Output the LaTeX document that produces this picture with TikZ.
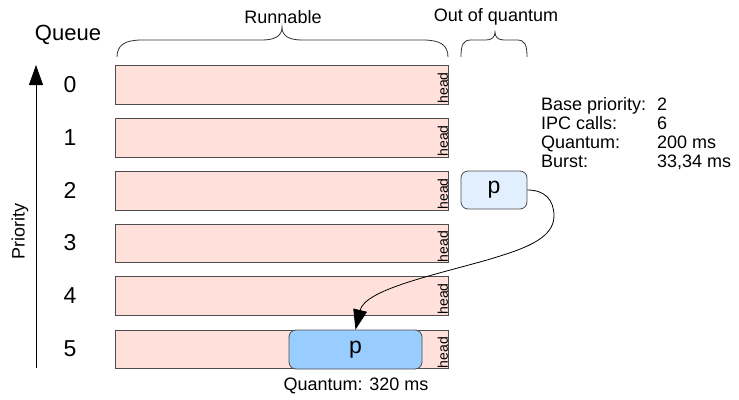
\documentclass[tikz,border=0pt]{standalone}
\usepackage{fontspec}
\setmainfont{Liberation Sans}
\usetikzlibrary{arrows.meta}
\definecolor{barfill}{HTML}{FFE0DA}
\definecolor{edgegray}{HTML}{4D4D4D}
\definecolor{plight}{HTML}{E1EFFF}
\definecolor{pdark}{HTML}{99CCFF}
\newcommand{\fs}[1]{\fontsize{#1}{#1}\selectfont}
\begin{document}
\begin{tikzpicture}[x=1pt,y=-1pt,
  qbar/.style={draw=edgegray, fill=barfill, line width=0.8pt, minimum width=333pt, minimum height=38.5pt, inner sep=0pt, anchor=north west},
  headlbl/.style={rotate=90, anchor=south west, font=\fs{14}, inner sep=0.6pt},
  qnum/.style={font=\fs{23}, inner sep=0pt},
  toplbl/.style={font=\fs{18}, inner sep=0pt},
  info/.style={font=\fs{18}, anchor=base west, inner sep=0pt},
  pbox/.style={draw=edgegray, line width=0.8pt, rounded corners=7pt, font=\fs{23}, inner sep=0pt},
  bigarrow/.style={-{Triangle[width=14pt,length=20pt]}, line width=0.8pt},
  bracestyle/.style={line width=0.8pt, draw=black!80}
]
\useasboundingbox (0,0) rectangle (739,399);

% queue bars
\foreach \i/\y in {0/65,1/118,2/171,3/223.5,4/276,5/329.5}{
  \node[qbar] (q\i) at (115,\y) {};
  \node[headlbl] (h\i) at (q\i.south east) {head};
  \node[qnum] (n\i) at (70,\y+19.5) {\i};
}

% labels
\node[font=\fs{22}, inner sep=0pt] (queue) at (68,35) {Queue};
\node[toplbl] (runnable) at (283,17) {Runnable};
\node[toplbl] (ooq) at (496,17) {Out of quantum};
\node[font=\fs{18}, rotate=90, inner sep=0pt] (prio) at (20,231) {Priority};

% priority axis
\coordinate (axb) at (36,368);
\coordinate (axt) at (36,65);
\draw[bigarrow] (axb) -- (axt);

% braces
\draw[bracestyle] (117,57) .. controls (117,45) and (125,40) .. (142,40) -- (262,40)
  .. controls (275,40) and (282,36) .. (282,27)
  .. controls (282,36) and (289,40) .. (302,40) -- (423,40)
  .. controls (440,40) and (448,45) .. (448,57);
\draw[bracestyle] (461,57) .. controls (461,45) and (463,40) .. (471,40) -- (486,40)
  .. controls (492,40) and (495,37) .. (495,32)
  .. controls (495,37) and (498,40) .. (504,40) -- (517,40)
  .. controls (525,40) and (527,45) .. (527,57);

% processes
\node[pbox, fill=plight, minimum width=66pt, minimum height=38pt] (psmall) at (494,190) {p};
\node[pbox, fill=pdark, minimum width=133pt, minimum height=39pt] (pbig) at (355.5,349.5) {p};

\draw[bigarrow] (psmall.east) .. controls (545,190) and (554,200) .. (554,216)
  .. controls (554,240) and (520,250) .. (487,260)
  .. controls (430,276) and (365,290) .. (pbig.north);

% info
\node[info] (i1) at (541,110) {Base priority:};
\node[info] (v1) at (657,110) {2};
\node[info] (i2) at (541,129) {IPC calls:};
\node[info] (v2) at (657,129) {6};
\node[info] (i3) at (541,148) {Quantum:};
\node[info] (v3) at (657,148) {200 ms};
\node[info] (i4) at (541,167) {Burst:};
\node[info] (v4) at (657,167) {33,34 ms};

\node[font=\fs{18}, inner sep=0pt] (qt) at (356,386) {Quantum: 320 ms};
\end{tikzpicture}
\end{document}
